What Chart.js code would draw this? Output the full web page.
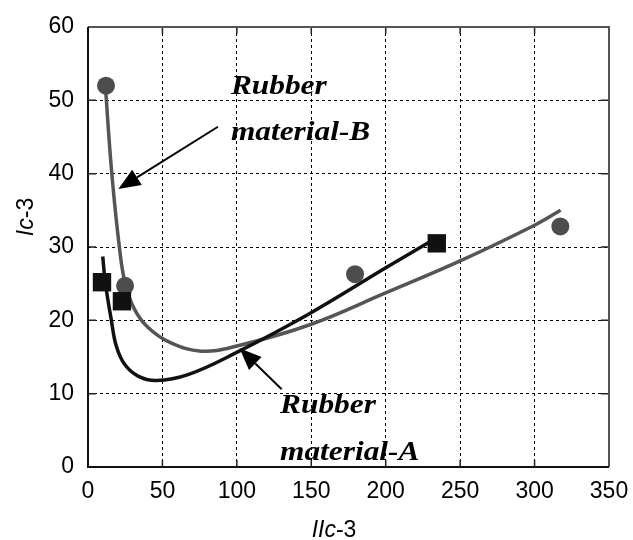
<!DOCTYPE html>
<html>
<head>
<meta charset="utf-8">
<script src="https://cdn.jsdelivr.net/npm/chart.js@4.4.0/dist/chart.umd.min.js"></script>
<style>
  html, body { margin: 0; padding: 0; background: #fff; }
</style>
</head>
<body>
<canvas id="chart" width="633" height="540"></canvas>
<script>
const X_TICKS = [0, 50, 100, 150, 200, 250, 300, 350];
const Y_TICKS = [0, 10, 20, 30, 40, 50, 60];

// measured points
const materialA_x = [9.4, 22.8, 234.3];
const materialA_y = [25.2, 22.6, 30.5];
const materialB_x = [12.1, 24.9, 179.4, 317.3];
const materialB_y = [52.0, 24.7, 26.3, 32.8];

// fitted curves
const fitA_x = [9.9, 11.6, 15.7, 19.0, 24.6, 33.6, 45.9, 67.2, 99.6, 147.8, 199.5, 232];
const fitA_y = [28.7, 25.2, 20.0, 16.5, 14.0, 12.4, 11.8, 12.6, 15.6, 20.8, 27.1, 31.0];
const fitB_x = [11.6, 16.0, 21.3, 25.0, 31.0, 40.0, 55.0, 76.0, 100, 149, 199.5, 250, 300.3, 317.5];
const fitB_y = [52.1, 40.0, 29.6, 25.0, 21.6, 19.1, 17.0, 15.8, 16.5, 19.4, 23.7, 28.1, 33.0, 35.0];

// labels + arrows, in data units
const labelB = { text: ["Rubber", "material-B"], x: 96, y: [50.9, 44.6] };
const labelA = { text: ["Rubber", "material-A"], x: 129, y: [7.4, 0.93] };
const arrowB = { from: [87.3, 46.4], to: [20.4, 37.9] };
const arrowA = { from: [130.1, 10.6], to: [101.8, 16.2] };

const toPoints = (xs, ys) => xs.map((x, i) => ({ x, y: ys[i] }));

const SANS = '"Liberation Sans", Arial, sans-serif';
const SERIF = '"Liberation Serif", "Times New Roman", serif';

const drawArrow = (ctx, x1, y1, x2, y2) => {
  const ang = Math.atan2(y2 - y1, x2 - x1);
  const head = 22;
  const half = 9;
  const bx = x2 - head * Math.cos(ang);
  const by = y2 - head * Math.sin(ang);
  ctx.strokeStyle = "#000";
  ctx.lineWidth = 2;
  ctx.beginPath();
  ctx.moveTo(x1, y1);
  ctx.lineTo(bx, by);
  ctx.stroke();
  ctx.fillStyle = "#000";
  ctx.beginPath();
  ctx.moveTo(x2, y2);
  ctx.lineTo(bx + half * Math.sin(ang), by - half * Math.cos(ang));
  ctx.lineTo(bx - half * Math.sin(ang), by + half * Math.cos(ang));
  ctx.closePath();
  ctx.fill();
};

const drawLabel = (ctx, xs, ys, label) => {
  ctx.font = `italic bold 28px ${SERIF}`;
  ctx.fillStyle = "#000";
  ctx.textAlign = "left";
  ctx.textBaseline = "alphabetic";
  label.text.forEach((t, i) => {
    ctx.save();
    ctx.translate(xs.getPixelForValue(label.x), ys.getPixelForValue(label.y[i]));
    ctx.scale(1.12, 1);
    ctx.fillText(t, 0, 0);
    ctx.restore();
  });
};

// mixed italic / upright title
const drawTitle = (ctx, parts, x, y) => {
  let w = 0;
  parts.forEach((p) => {
    ctx.font = `${p.italic ? "italic " : ""}23px ${SANS}`;
    w += ctx.measureText(p.t).width;
  });
  let cx = x - w / 2;
  ctx.fillStyle = "#000";
  ctx.textAlign = "left";
  ctx.textBaseline = "alphabetic";
  parts.forEach((p) => {
    ctx.font = `${p.italic ? "italic " : ""}23px ${SANS}`;
    ctx.fillText(p.t, cx, y);
    cx += ctx.measureText(p.t).width;
  });
};

const decorPlugin = {
  id: "decor",
  afterDraw(chart) {
    const { ctx, chartArea: a, scales } = chart;
    const xs = scales.x;
    const ys = scales.y;
    ctx.save();

    // inward tick marks
    ctx.strokeStyle = "#222";
    ctx.lineWidth = 1.5;
    ctx.beginPath();
    X_TICKS.forEach((v) => {
      const px = xs.getPixelForValue(v);
      ctx.moveTo(px, a.bottom);
      ctx.lineTo(px, a.bottom - 7);
      ctx.moveTo(px, a.top);
      ctx.lineTo(px, a.top + 7);
    });
    Y_TICKS.forEach((v) => {
      const py = ys.getPixelForValue(v);
      ctx.moveTo(a.left, py);
      ctx.lineTo(a.left + 8, py);
      ctx.moveTo(a.right, py);
      ctx.lineTo(a.right - 8, py);
    });
    ctx.stroke();

    // frame
    ctx.lineWidth = 2;
    ctx.strokeStyle = "#555";
    ctx.beginPath();
    ctx.moveTo(a.left, a.top);
    ctx.lineTo(a.right, a.top);
    ctx.lineTo(a.right, a.bottom);
    ctx.stroke();
    ctx.strokeStyle = "#111";
    ctx.beginPath();
    ctx.moveTo(a.left, a.top);
    ctx.lineTo(a.left, a.bottom);
    ctx.lineTo(a.right, a.bottom);
    ctx.stroke();

    // arrows and labels
    drawArrow(ctx,
      xs.getPixelForValue(arrowB.from[0]), ys.getPixelForValue(arrowB.from[1]),
      xs.getPixelForValue(arrowB.to[0]), ys.getPixelForValue(arrowB.to[1]));
    drawArrow(ctx,
      xs.getPixelForValue(arrowA.from[0]), ys.getPixelForValue(arrowA.from[1]),
      xs.getPixelForValue(arrowA.to[0]), ys.getPixelForValue(arrowA.to[1]));
    drawLabel(ctx, xs, ys, labelB);
    drawLabel(ctx, xs, ys, labelA);

    // axis titles
    drawTitle(ctx, [{ t: "IIc", italic: true }, { t: "-3", italic: false }], 334, 537);
    ctx.save();
    ctx.translate(33, 217);
    ctx.rotate(-Math.PI / 2);
    drawTitle(ctx, [{ t: "Ic", italic: true }, { t: "-3", italic: false }], 0, 0);
    ctx.restore();

    ctx.restore();
  },
};

const tickFont = { family: SANS, size: 23 };

new Chart(document.getElementById("chart"), {
  type: "scatter",
  data: {
    datasets: [
      {
        label: "Rubber material-A",
        data: toPoints(materialA_x, materialA_y),
        pointStyle: "rect",
        pointRadius: 13,
        backgroundColor: "#111",
        borderColor: "#111",
        borderWidth: 0,
      },
      {
        label: "Rubber material-B",
        data: toPoints(materialB_x, materialB_y),
        pointStyle: "circle",
        pointRadius: 9,
        backgroundColor: "#4d4d4d",
        borderColor: "#4d4d4d",
        borderWidth: 0,
      },
      {
        label: "fit A",
        data: toPoints(fitA_x, fitA_y),
        showLine: true,
        pointRadius: 0,
        borderColor: "#111",
        borderWidth: 3.5,
        tension: 0.4,
      },
      {
        label: "fit B",
        data: toPoints(fitB_x, fitB_y),
        showLine: true,
        pointRadius: 0,
        borderColor: "#555",
        borderWidth: 3.5,
        tension: 0.4,
      },
    ],
  },
  options: {
    responsive: false,
    animation: false,
    layout: { padding: { top: 27, right: 24, left: 0, bottom: 0 } },
    plugins: {
      legend: { display: false },
      tooltip: { enabled: false },
    },
    scales: {
      x: {
        type: "linear",
        min: 0,
        max: 350,
        afterBuildTicks: (s) => { s.ticks = X_TICKS.map((v) => ({ value: v })); },
        afterFit: (s) => {
          s.height = 73;
          s.paddingLeft = 0;
          s.paddingRight = 0;
        },
        grid: { color: "#000", lineWidth: 1, drawTicks: false },
        border: { display: false, dash: [3, 3] },
        ticks: { color: "#000", font: tickFont, padding: 11, maxRotation: 0 },
      },
      y: {
        type: "linear",
        min: 0,
        max: 60,
        afterBuildTicks: (s) => { s.ticks = Y_TICKS.map((v) => ({ value: v })); },
        afterFit: (s) => {
          s.width = 88;
          s.paddingTop = 0;
          s.paddingBottom = 0;
        },
        grid: { color: "#000", lineWidth: 1, drawTicks: false },
        border: { display: false, dash: [3, 3] },
        ticks: { color: "#000", font: tickFont, padding: 14 },
      },
    },
  },
  plugins: [decorPlugin],
});
</script>
</body>
</html>
